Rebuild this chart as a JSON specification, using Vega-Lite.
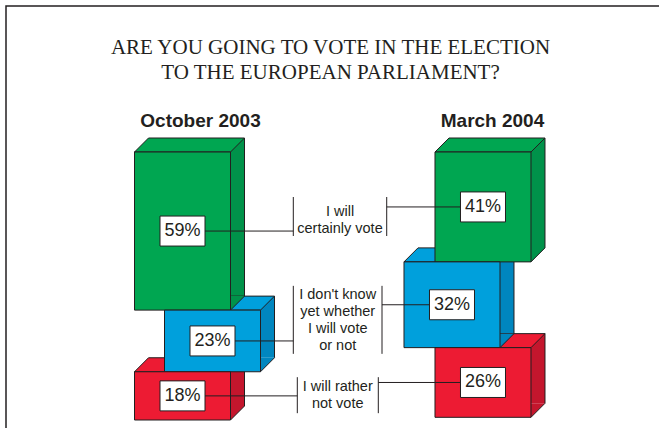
{
  "$schema": "https://vega.github.io/schema/vega-lite/v6.json",
  "width": 663,
  "height": 432,
  "autosize": "none",
  "padding": {"left": 6, "top": 6, "right": -10, "bottom": -10},
  "background": "white",
  "config": {
    "view": {"stroke": "#231f20", "strokeWidth": 1.5},
    "title": {"font": "Liberation Serif", "fontWeight": "normal"}
  },
  "title": {
    "text": ["ARE YOU GOING TO VOTE IN THE ELECTION", "TO THE EUROPEAN PARLIAMENT?"],
    "font": "Liberation Serif",
    "fontSize": 21,
    "fontWeight": "normal",
    "color": "#231f20",
    "lineHeight": 25,
    "anchor": "middle",
    "frame": "group",
    "offset": -77,
    "dx": -7
  },
  "data": {
    "values": [
      {"period": "October 2003", "answer": "I will\ncertainly vote", "order": 1, "percent": 0.59},
      {"period": "October 2003", "answer": "I don't know\nyet whether\nI will vote\nor not", "order": 2, "percent": 0.23},
      {"period": "October 2003", "answer": "I will rather\nnot vote", "order": 3, "percent": 0.18},
      {"period": "March 2004", "answer": "I will\ncertainly vote", "order": 1, "percent": 0.41},
      {"period": "March 2004", "answer": "I don't know\nyet whether\nI will vote\nor not", "order": 2, "percent": 0.32},
      {"period": "March 2004", "answer": "I will rather\nnot vote", "order": 3, "percent": 0.26}
    ]
  },
  "transform": [
    {"stack": "percent", "groupby": ["period"], "sort": [{"field": "order", "order": "ascending"}], "as": ["y0", "y1"]}
  ],
  "layer": [
    {
      "mark": {"type": "bar", "width": 14, "xOffset": {"expr": "(datum.order === 2 ? (datum.period === 'March 2004' ? -31 : 30) : 0) + 55"}, "yOffset": -14, "y2Offset": -14},
      "encoding": {
        "x": {"field": "period", "type": "nominal",
          "scale": {"type": "band", "domain": ["October 2003", "March 2004"], "range": [128.5, 525], "paddingInner": 0.6805, "paddingOuter": 0},
          "axis": null},
        "y": {"field": "y0", "type": "quantitative", "scale": {"domain": [0, 1], "range": [146, 414], "nice": false, "zero": false}, "axis": null},
        "y2": {"field": "y1"},
        "color": {"field": "answer", "type": "nominal", "legend": null,
          "scale": {"domain": ["I will\ncertainly vote", "I don't know\nyet whether\nI will vote\nor not", "I will rather\nnot vote"], "range": ["#00924a", "#0086bf", "#c4162d"]}}
      }
    },
    {
      "mark": {"type": "point", "shape": "M0,0L14,-14L110,-14L96,0Z", "size": 4, "filled": true, "opacity": 1, "stroke": "#231f20", "strokeWidth": 1, "xOffset": {"expr": "(datum.order === 2 ? (datum.period === 'March 2004' ? -31 : 30) : 0)"}},
      "encoding": {
        "x": {"field": "period", "type": "nominal", "bandPosition": 0, "axis": null},
        "y": {"field": "y0", "type": "quantitative", "axis": null},
        "fill": {"field": "answer", "type": "nominal", "legend": null,
          "scale": {"domain": ["I will\ncertainly vote", "I don't know\nyet whether\nI will vote\nor not", "I will rather\nnot vote"], "range": ["#00a651", "#00a0dc", "#ed1b33"]}}
      }
    },
    {
      "mark": {"type": "point", "shape": "M96,0L96,-14L110,-14Z", "size": 4, "filled": true, "opacity": 1, "strokeWidth": 0, "xOffset": {"expr": "(datum.order === 2 ? (datum.period === 'March 2004' ? -31 : 30) : 0)"}},
      "encoding": {
        "x": {"field": "period", "type": "nominal", "bandPosition": 0, "axis": null},
        "y": {"field": "y1", "type": "quantitative", "axis": null},
        "color": {"field": "answer", "type": "nominal", "legend": null}
      }
    },
    {
      "mark": {"type": "rule", "color": "#231f20", "strokeWidth": 1, "xOffset": {"expr": "(datum.order === 2 ? (datum.period === 'March 2004' ? -31 : 30) : 0) + 110"}, "yOffset": -14, "y2Offset": -14},
      "encoding": {
        "x": {"field": "period", "type": "nominal", "bandPosition": 0, "axis": null},
        "y": {"field": "y0", "type": "quantitative", "axis": null},
        "y2": {"field": "y1"}
      }
    },
    {
      "mark": {"type": "point", "shape": "M96,0L110,-14", "size": 4, "filled": false, "opacity": 1, "color": "#231f20", "strokeWidth": 1, "xOffset": {"expr": "(datum.order === 2 ? (datum.period === 'March 2004' ? -31 : 30) : 0)"}},
      "encoding": {
        "x": {"field": "period", "type": "nominal", "bandPosition": 0, "axis": null},
        "y": {"field": "y1", "type": "quantitative", "axis": null}
      }
    },
    {
      "mark": {"type": "bar", "stroke": "#231f20", "strokeWidth": 1, "xOffset": {"expr": "(datum.order === 2 ? (datum.period === 'March 2004' ? -31 : 30) : 0)"}},
      "encoding": {
        "x": {"field": "period", "type": "nominal", "axis": null},
        "y": {"field": "y0", "type": "quantitative", "axis": null},
        "y2": {"field": "y1"},
        "fill": {"field": "answer", "type": "nominal", "legend": null}
      }
    },
    {
      "transform": [
        {"aggregate": [{"op": "min", "field": "y0", "as": "top"}], "groupby": ["period"]}
      ],
      "mark": {"type": "text", "font": "Liberation Sans", "fontSize": 19, "fontWeight": "bold", "color": "#231f20", "align": "center", "baseline": "middle",
        "yOffset": -31,
        "xOffset": {"expr": "datum.period === 'October 2003' ? 18 : 9.5"}},
      "encoding": {
        "x": {"field": "period", "type": "nominal", "bandPosition": 0.5, "axis": null},
        "y": {"field": "top", "type": "quantitative", "axis": null},
        "text": {"field": "period", "type": "nominal"}
      }
    },
    {
      "transform": [
        {"fold": ["y0", "y1"], "as": ["edge", "edgeValue"]},
        {"aggregate": [{"op": "mean", "field": "edgeValue", "as": "mid"}], "groupby": ["period", "answer", "order", "percent"]}
      ],
      "layer": [
        {
          "mark": {"type": "rule", "color": "#231f20", "strokeWidth": 1,
            "xOffset": {"expr": "(datum.order === 2 ? (datum.period === 'March 2004' ? -31 : 30) : 0)"},
            "x2Offset": {"expr": "datum.period === 'March 2004' ? (datum.order === 1 ? -96.3 : datum.order === 2 ? -101 : -104.7) : (datum.order === 3 ? 114.8 : 110.8)"}},
          "encoding": {
            "x": {"field": "period", "type": "nominal", "bandPosition": 0.5, "axis": null},
            "x2": {"field": "period"},
            "y": {"field": "mid", "type": "quantitative", "axis": null}
          }
        },
        {
          "mark": {"type": "point", "shape": "M-22.5,-15H22.5V15H-22.5Z", "size": 4, "filled": true, "opacity": 1, "fill": "white", "stroke": "#231f20", "strokeWidth": 1,
            "xOffset": {"expr": "(datum.order === 2 ? (datum.period === 'March 2004' ? -31 : 30) : 0)"}},
          "encoding": {
            "x": {"field": "period", "type": "nominal", "bandPosition": 0.5, "axis": null},
            "y": {"field": "mid", "type": "quantitative", "axis": null}
          }
        },
        {
          "mark": {"type": "text", "font": "Liberation Sans", "fontSize": 18, "color": "#231f20", "align": "center", "baseline": "middle",
            "xOffset": {"expr": "(datum.order === 2 ? (datum.period === 'March 2004' ? -31 : 30) : 0)"}},
          "encoding": {
            "x": {"field": "period", "type": "nominal", "bandPosition": 0.5, "axis": null},
            "y": {"field": "mid", "type": "quantitative", "axis": null},
            "text": {"field": "percent", "type": "quantitative", "format": ".0%"}
          }
        }
      ]
    },
    {
      "transform": [
        {"fold": ["y0", "y1"], "as": ["edge", "edgeValue"]},
        {"aggregate": [{"op": "mean", "field": "edgeValue", "as": "mid"}], "groupby": ["answer", "order"]}
      ],
      "layer": [
        {
          "mark": {"type": "text", "font": "Liberation Sans", "fontSize": 14.5, "lineHeight": 17, "lineBreak": "\n", "color": "#231f20", "align": "center", "baseline": "middle",
            "xOffset": {"expr": "datum.order === 1 ? 157.5 : 155.2"},
            "yOffset": {"expr": "datum.order === 1 ? -7.5 : (datum.order === 2 ? -27.5 : -2)"}},
          "encoding": {
            "x": {"datum": "October 2003", "type": "nominal", "bandPosition": 0.5, "axis": null},
            "y": {"field": "mid", "type": "quantitative", "axis": null},
            "text": {"field": "answer", "type": "nominal"}
          }
        },
        {
          "mark": {"type": "rule", "color": "#231f20", "strokeWidth": 1,
            "xOffset": {"expr": "datum.order === 3 ? 114.8 : 110.8"},
            "yOffset": {"expr": "datum.order === 1 ? -22 : (datum.order === 2 ? -37 : -12)"},
            "y2Offset": {"expr": "datum.order === 1 ? 17 : (datum.order === 2 ? 31 : 24)"}},
          "encoding": {
            "x": {"datum": "October 2003", "type": "nominal", "bandPosition": 0.5, "axis": null},
            "y": {"field": "mid", "type": "quantitative", "axis": null},
            "y2": {"field": "mid"}
          }
        },
        {
          "mark": {"type": "rule", "color": "#231f20", "strokeWidth": 1,
            "xOffset": {"expr": "datum.order === 1 ? 204.2 : (datum.order === 2 ? 199.5 : 195.8)"},
            "yOffset": {"expr": "datum.order === 1 ? -22 : (datum.order === 2 ? -37 : -12)"},
            "y2Offset": {"expr": "datum.order === 1 ? 17 : (datum.order === 2 ? 31 : 24)"}},
          "encoding": {
            "x": {"datum": "October 2003", "type": "nominal", "bandPosition": 0.5, "axis": null},
            "y": {"field": "mid", "type": "quantitative", "axis": null},
            "y2": {"field": "mid"}
          }
        }
      ]
    }
  ]
}
